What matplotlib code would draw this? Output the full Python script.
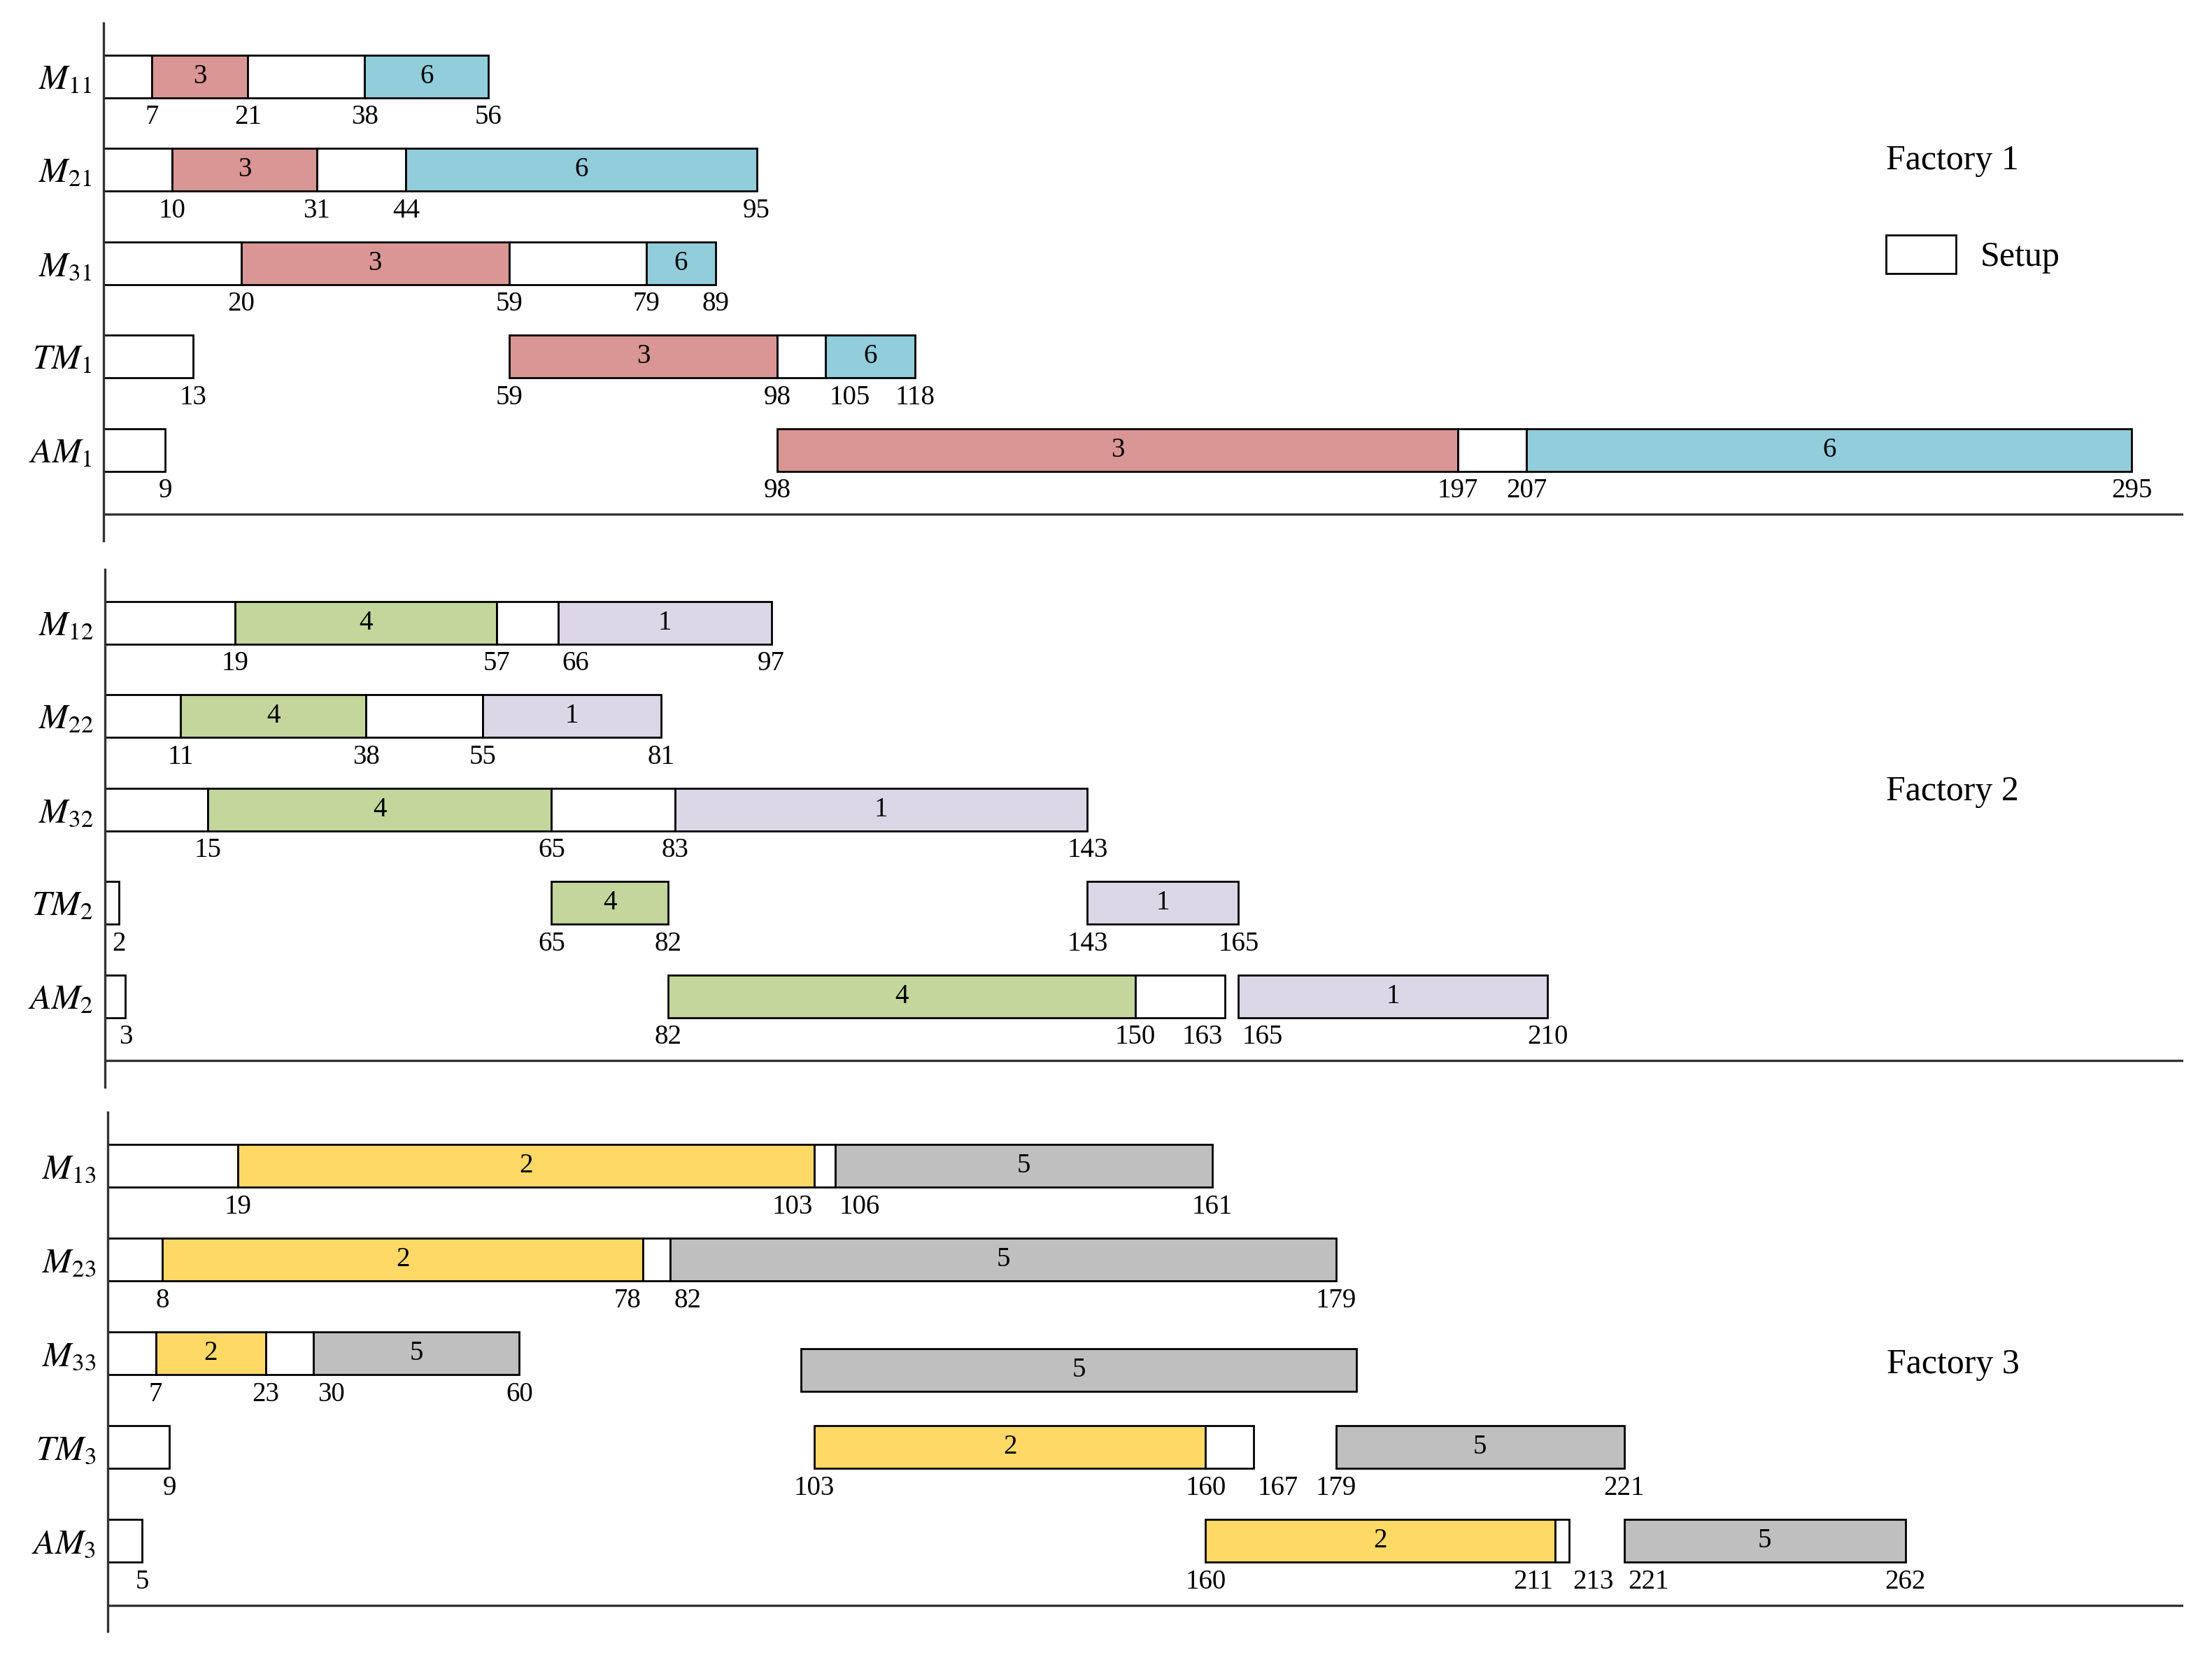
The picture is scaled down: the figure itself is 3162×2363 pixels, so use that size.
import matplotlib.pyplot as plt
from matplotlib.patches import Patch

plt.rcParams['font.family'] = 'Liberation Serif'
plt.rcParams['mathtext.fontset'] = 'stix'

# row names per factory (top to bottom)
rows_f1 = ['$M_{11}$', '$M_{21}$', '$M_{31}$', '$TM_1$', '$AM_1$']
rows_f2 = ['$M_{12}$', '$M_{22}$', '$M_{32}$', '$TM_2$', '$AM_2$']
rows_f3 = ['$M_{13}$', '$M_{23}$', '$M_{33}$', '$TM_3$', '$AM_3$']

# operations per row: (start, end, job), job 0 = setup
ops_f1 = [
    [(0, 7, 0), (7, 21, 3), (21, 38, 0), (38, 56, 6)],
    [(0, 10, 0), (10, 31, 3), (31, 44, 0), (44, 95, 6)],
    [(0, 20, 0), (20, 59, 3), (59, 79, 0), (79, 89, 6)],
    [(0, 13, 0), (59, 98, 3), (98, 105, 0), (105, 118, 6)],
    [(0, 9, 0), (98, 197, 3), (197, 207, 0), (207, 295, 6)],
]
ops_f2 = [
    [(0, 19, 0), (19, 57, 4), (57, 66, 0), (66, 97, 1)],
    [(0, 11, 0), (11, 38, 4), (38, 55, 0), (55, 81, 1)],
    [(0, 15, 0), (15, 65, 4), (65, 83, 0), (83, 143, 1)],
    [(0, 2, 0), (65, 82, 4), (143, 165, 1)],
    [(0, 3, 0), (82, 150, 4), (150, 163, 0), (165, 210, 1)],
]
ops_f3 = [
    [(0, 19, 0), (19, 103, 2), (103, 106, 0), (106, 161, 5)],
    [(0, 8, 0), (8, 78, 2), (78, 82, 0), (82, 179, 5)],
    [(0, 7, 0), (7, 23, 2), (23, 30, 0), (30, 60, 5)],
    [(0, 9, 0), (103, 160, 2), (160, 167, 0), (179, 221, 5)],
    [(0, 5, 0), (160, 211, 2), (211, 213, 0), (221, 262, 5)],
]
# unlabeled extra block of job 5 drawn just below the M33 row
extra_f3 = (101, 182, 5)

job_colors = {0: 'white', 1: '#DCD7E6', 2: '#FFD966', 3: '#D99694',
              4: '#C3D69B', 5: '#BFBFBF', 6: '#92CDDC'}

fig = plt.figure(figsize=(15.81, 11.815), dpi=200)

panels = [
    (rows_f1, ops_f1, 'Factory 1', [0.0468, 0.6730, 0.9402, 0.313], 0.734),
    (rows_f2, ops_f2, 'Factory 2', [0.0474, 0.3425, 0.9396, 0.313], 0.570),
    (rows_f3, ops_f3, 'Factory 3', [0.0487, 0.0130, 0.9383, 0.314], 0.514),
]

bar_h = 0.455

for k, (rows, ops, title, rect, ty) in enumerate(panels):
    ax = fig.add_axes(rect)
    for i, row_ops in enumerate(ops):
        for s, e, job in row_ops:
            ax.barh(i, e - s, left=s, height=bar_h, color=job_colors[job],
                    edgecolor='black', linewidth=1.0, zorder=2)
            if job:
                ax.text((s + e) / 2, i, str(job), ha='center', va='center',
                        fontsize=14, zorder=3)
        # time labels under each boundary
        marks = sorted({v for op in row_ops for v in op[:2] if v > 0})
        for j, v in enumerate(marks):
            ha, dx = 'center', 0
            if j + 1 < len(marks) and marks[j + 1] - v < 6:
                ha, dx = 'right', -1
            elif j > 0 and v - marks[j - 1] < 10:
                ha, dx = 'left', 2
            ax.annotate(str(v), (v, i + 0.30), xytext=(dx, 0),
                        textcoords='offset points', ha=ha, va='top',
                        fontsize=14)
    if k == 2:
        s, e, job = extra_f3
        ax.barh(2.18, e - s, left=s, height=bar_h, color=job_colors[job],
                edgecolor='black', linewidth=1.0, zorder=2)
        ax.text((s + e) / 2, 2.18, str(job), ha='center', va='center',
                fontsize=14, zorder=3)

    ax.set_xlim(0, 302.5)
    ax.set_ylim(4.97, -0.57)
    ax.axhline(4.69, color='#333333', linewidth=1.2)
    ax.set_yticks(range(len(rows)))
    ax.set_yticklabels(rows, fontsize=18)
    ax.tick_params(axis='y', length=0, pad=6)
    ax.set_xticks([])
    for side in ['top', 'right', 'bottom']:
        ax.spines[side].set_visible(False)
    ax.spines['left'].set_linewidth(1.2)
    ax.spines['left'].set_color('#333333')

    ax.text(0.857, ty, title, transform=ax.transAxes, fontsize=18,
            ha='left', va='center')
    if k == 0:
        ax.legend(handles=[Patch(facecolor='white', edgecolor='black', linewidth=1.0)],
                  labels=['Setup'], loc='center left',
                  bbox_to_anchor=(0.857, 0.553), frameon=False, fontsize=18,
                  handlelength=2.0, handleheight=1.3, handletextpad=0.7,
                  borderpad=0, borderaxespad=0)

plt.savefig('out.png', dpi=200)
